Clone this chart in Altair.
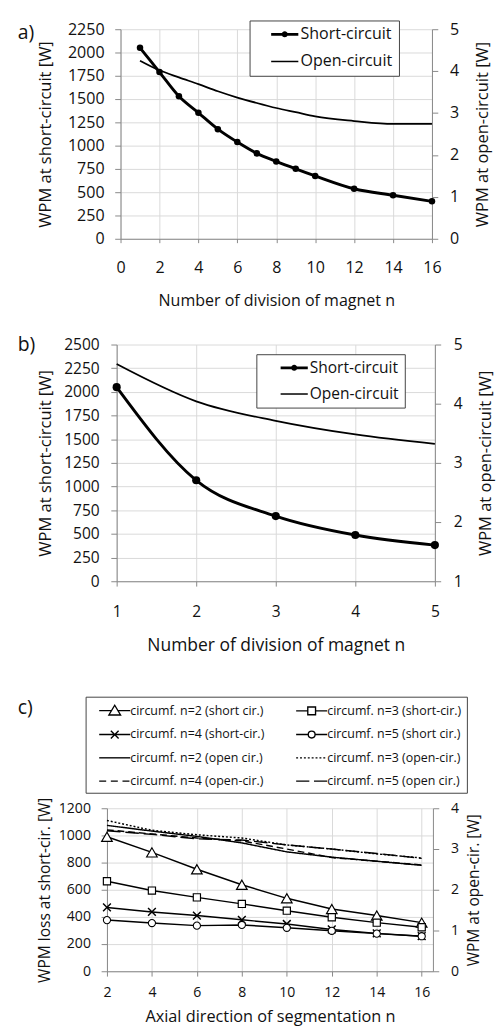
import altair as alt
import pandas as pd

# ---------------- data ----------------
a_n = [1, 2, 3, 4, 5, 6, 7, 8, 9, 10, 12, 14, 16]
a_short = [2050, 1790, 1530, 1353, 1177, 1038, 917, 831, 751, 675, 537, 467, 402]
a_open = [4.25, 4.02, 3.85, 3.69, 3.52, 3.37, 3.24, 3.12, 3.02, 2.92, 2.81, 2.74, 2.74]

b_n = [1, 2, 3, 4, 5]
b_short = [2050, 1066, 688, 488, 382]
b_open = [4.67, 4.04, 3.71, 3.48, 3.32]

c_n = [2, 4, 6, 8, 10, 12, 14, 16]
c_short_n2 = [990, 875, 751, 637, 537, 458, 410, 358]
c_short_n3 = [663, 594, 544, 496, 446, 398, 358, 324]
c_short_n4 = [470, 437, 410, 379, 348, 308, 279, 258]
c_short_n5 = [377, 355, 336, 341, 320, 298, 277, 258]
c_open_n2 = [3.58, 3.44, 3.31, 3.15, 2.93, 2.80, 2.70, 2.60]
c_open_n3 = [3.70, 3.46, 3.35, 3.27, 3.10, 3.00, 2.88, 2.78]
c_open_n4 = [3.47, 3.37, 3.27, 3.20, 3.00, 2.79, 2.70, 2.61]
c_open_n5 = [3.45, 3.36, 3.25, 3.22, 3.10, 3.00, 2.89, 2.77]

legend_a = ["Short-circuit", "Open-circuit"]
legend_b = ["Short-circuit ", "Open-circuit "]
legend_c = [
    "circumf.  n=2 (short cir.)", "circumf. n=3 (short-cir.)",
    "circumf. n=4 (short-cir.)", "circumf. n=5 (short cir.)",
    "circumf. n=2 (open cir.)", "circumf. n=3 (open-cir.)",
    "circumf. n=4 (open-cir.)", "circumf. n=5 (open cir.)",
]
panel_labels = ["a)", "b)", "c)"]

# ---------------- style ----------------
FONT = "Open Sans"
TXT = "#111111"
GRID = "#d9d9d9"
AXC = "#868686"


def x_axis(title, values, size, tsize, tick, lpad, tpad):
    return alt.Axis(title=title, values=values, grid=True, gridColor=GRID, domainColor=AXC,
                    tickColor=AXC, tickSize=tick, labelFlush=False, labelFont=FONT,
                    labelFontSize=size, labelColor=TXT, titleFont=FONT, titleFontSize=tsize,
                    titleColor=TXT, titleFontWeight="normal", labelPadding=lpad,
                    titlePadding=tpad, labelOverlap=False, format="d")


def y_axis(title, values, orient, size, tsize, lpad, tpad):
    kw = dict(title=title, values=values, orient=orient, grid=(orient == "left"),
              gridColor=GRID, domainColor=AXC, tickColor=AXC, tickSize=6,
              labelFont=FONT, labelFontSize=size, labelColor=TXT, titleFont=FONT,
              titleFontSize=tsize, titleColor=TXT, titleFontWeight="normal",
              labelPadding=lpad, titlePadding=tpad, labelOverlap=False, format="d")
    if orient == "right":
        kw.update(titleAngle=270, titleBaseline="top")
    return alt.Axis(**kw)


def panel_label(txt, dx, dy):
    return alt.Chart(pd.DataFrame({"label": [txt]})).mark_text(
        font=FONT, fontSize=20, align="left", baseline="middle", color=TXT
    ).encode(text="label:N", x=alt.value(dx), y=alt.value(dy))


def top_space(dy):
    # invisible rule that only reserves room above a panel
    return alt.Chart(pd.DataFrame({"s": [0]})).mark_rule(opacity=0).encode(
        x=alt.value(0), x2=alt.value(1), y=alt.value(dy))


# legend symbols (custom paths, unit = sqrt(size)/2 px)
SYM_SHORT = ("M-1,-0.2H3V0.2H-1Z M0.55,0 A0.45,0.45 0 1,1 1.45,0 "
             "A0.45,0.45 0 1,1 0.55,0 Z")
SYM_OPEN = "M-1,-0.11H3V0.11H-1Z"


def ab_legend(items, lx, ly, fsize, soff):
    ldf = pd.DataFrame({"series": items})
    return alt.Chart(ldf).mark_point(filled=True, color="black", opacity=1, strokeWidth=0).encode(
        shape=alt.Shape("series:N", sort=None,
                        scale=alt.Scale(domain=items, range=[SYM_SHORT, SYM_OPEN]),
                        legend=alt.Legend(title=None, orient="none", legendX=lx, legendY=ly,
                                          strokeColor="#404040", fillColor="white", padding=6,
                                          symbolSize=196, labelOffset=15, symbolOffset=soff,
                                          labelFont=FONT, labelFontSize=fsize, labelColor=TXT,
                                          rowPadding=11, symbolStrokeWidth=0))
    ).transform_filter("false")


dots = "".join(f"M{-1 + 0.5 * i:.2f},0H{-0.75 + 0.5 * i:.2f}" for i in range(8))
SYM_C = [
    "M-1,0H0.58M1.42,0H3M1,-0.7L1.75,0.55L0.25,0.55Z",
    "M-1,0H0.5M1.5,0H3M0.5,-0.5H1.5V0.5H0.5Z",
    "M-1,0H3M0.5,-0.5L1.5,0.5M0.5,0.5L1.5,-0.5",
    "M-1,0H0.56M1.44,0H3M0.56,0A0.44,0.44 0 1,1 1.44,0A0.44,0.44 0 1,1 0.56,0Z",
    "M-1,0H3",
    dots,
    "M-1,0H-0.1M0.5,0H1.4M2,0H2.9",
    "M-1,0H0.7M1.3,0H3",
]
# legend entries are filled column by column: reorder so rows read as in the figure
c_leg_order = [0, 2, 4, 6, 1, 3, 5, 7]

# ---------------- panel a ----------------
dfa = pd.DataFrame({"n": a_n, "short": a_short, "open": a_open})
xa = alt.X("n:Q", scale=alt.Scale(domain=[0, 16], nice=False, zero=False),
           axis=x_axis("Number of division of magnet n", list(range(0, 17, 2)), 16.5, 16.5, 4, 18, 17))
ya_l = alt.Y("short:Q", scale=alt.Scale(domain=[0, 2250], nice=False),
             axis=y_axis("WPM at short-circuit [W]", list(range(0, 2251, 250)), "left", 16.5, 17, 11, 13))
ya_r = alt.Y("open:Q", scale=alt.Scale(domain=[0, 5], nice=False),
             axis=y_axis("WPM at open-circuit [W]", [0, 1, 2, 3, 4, 5], "right", 16.5, 17, 12, 17))

a_left = alt.layer(
    alt.Chart(dfa).mark_line(color="black", strokeWidth=3, interpolate="monotone").encode(x=xa, y=ya_l),
    alt.Chart(dfa).mark_point(filled=True, shape="circle", size=45, color="black", opacity=1).encode(x=xa, y=ya_l),
)
a_right = alt.Chart(dfa).mark_line(color="black", strokeWidth=1.8, interpolate="monotone").encode(x=xa, y=ya_r)
panel_a = alt.layer(a_left, a_right, ab_legend(legend_a, 133, -9, 16.5, 15),
                    panel_label(panel_labels[0], -106, 4)).resolve_scale(
    y="independent").properties(width=321, height=216)

# ---------------- panel b ----------------
dfb = pd.DataFrame({"n": b_n, "short": b_short, "open": b_open})
xb = alt.X("n:Q", scale=alt.Scale(domain=[1, 5], nice=False, zero=False),
           axis=x_axis("Number of division of magnet n", [1, 2, 3, 4, 5], 16, 18, 5, 18, 18))
yb_l = alt.Y("short:Q", scale=alt.Scale(domain=[0, 2500], nice=False),
             axis=y_axis("WPM at short-circuit [W]", list(range(0, 2501, 250)), "left", 16, 17, 12, 10))
yb_r = alt.Y("open:Q", scale=alt.Scale(domain=[1, 5], nice=False, zero=False),
             axis=y_axis("WPM at open-circuit [W]", [1, 2, 3, 4, 5], "right", 16, 17, 13, 16))
b_left = alt.layer(
    alt.Chart(dfb).mark_line(color="black", strokeWidth=3, interpolate="monotone").encode(x=xb, y=yb_l),
    alt.Chart(dfb).mark_point(filled=True, shape="circle", size=70, color="black", opacity=1).encode(x=xb, y=yb_l),
)
b_right = alt.Chart(dfb).mark_line(color="black", strokeWidth=1.8, interpolate="monotone").encode(x=xb, y=yb_r)
panel_b = alt.layer(b_left, b_right, ab_legend(legend_b, 144, 10, 16, 18),
                    panel_label(panel_labels[1], -102, 1)).resolve_scale(
    y="independent").properties(width=328, height=244)

# ---------------- panel c ----------------
short_cols = [c_short_n2, c_short_n3, c_short_n4, c_short_n5]
open_cols = [c_open_n2, c_open_n3, c_open_n4, c_open_n5]
dfc_s = pd.DataFrame([{"n": n, "value": v, "series": legend_c[i]}
                      for i, col in enumerate(short_cols) for n, v in zip(c_n, col)])
dfc_o = pd.DataFrame([{"n": n, "value": v, "series": legend_c[4 + i]}
                      for i, col in enumerate(open_cols) for n, v in zip(c_n, col)])
xc = alt.X("n:Q", scale=alt.Scale(domain=[2, 16.5], nice=False, zero=False),
           axis=x_axis("Axial direction of segmentation n", list(range(2, 17, 2)), 14.5, 16.8, 5, 10, 10))
yc_l = alt.Y("value:Q", scale=alt.Scale(domain=[0, 1200], nice=False),
             axis=y_axis("WPM loss at short-cir. [W]", list(range(0, 1201, 200)), "left", 14.5, 16, 11, 6))
yc_r = alt.Y("value:Q", scale=alt.Scale(domain=[0, 4], nice=False),
             axis=y_axis("WPM at open-cir. [W]", [0, 1, 2, 3, 4], "right", 14.5, 16, 12, 8))

marker_defs = [
    dict(shape="triangle-up", size=120, filled=True, fill="white", stroke="black", strokeWidth=1.2),
    dict(shape="square", size=55, filled=True, fill="white", stroke="black", strokeWidth=1.2),
    dict(shape="M-1,-1L1,1M-1,1L1,-1", size=64, filled=False, stroke="black", strokeWidth=1.5),
    dict(shape="circle", size=55, filled=True, fill="white", stroke="black", strokeWidth=1.1),
]
short_layers = []
for i in range(4):
    flt = alt.FieldEqualPredicate(field="series", equal=legend_c[i])
    short_layers.append(alt.Chart(dfc_s).mark_line(color="black", strokeWidth=1.5).encode(
        x=xc, y=yc_l).transform_filter(flt))
for i in range(4):
    flt = alt.FieldEqualPredicate(field="series", equal=legend_c[i])
    short_layers.append(alt.Chart(dfc_s).mark_point(opacity=1, **marker_defs[i]).encode(
        x=xc, y=yc_l).transform_filter(flt))

dashes = [[1, 0], [2, 2], [7, 4], [14, 5]]
open_layers = []
for i in range(4):
    flt = alt.FieldEqualPredicate(field="series", equal=legend_c[4 + i])
    open_layers.append(alt.Chart(dfc_o).mark_line(color="black", strokeWidth=1.5, strokeDash=dashes[i]).encode(
        x=xc, y=yc_r).transform_filter(flt))

c_dom = [legend_c[k] for k in c_leg_order]
c_rng = [SYM_C[k] for k in c_leg_order]
legend_c_layer = alt.Chart(pd.DataFrame({"series": legend_c})).mark_point(
    filled=False, color="black", opacity=1, strokeWidth=1.4
).encode(
    shape=alt.Shape("series:N", sort=None, scale=alt.Scale(domain=c_dom, range=c_rng),
                    legend=alt.Legend(title=None, orient="none", legendX=-22, legendY=-115,
                                      strokeColor="#404040", fillColor="white", padding=5,
                                      columns=2, columnPadding=21, rowPadding=8,
                                      symbolSize=256, labelOffset=15, symbolOffset=8,
                                      labelFont=FONT, labelFontSize=12.8, labelColor=TXT,
                                      symbolStrokeWidth=1.4, symbolStrokeColor="black",
                                      labelLimit=300))
).transform_filter("false")

panel_c = alt.layer(alt.layer(*short_layers), alt.layer(*open_layers), legend_c_layer,
                    panel_label(panel_labels[2], -92, -103), top_space(-131)).resolve_scale(
    y="independent").properties(width=336, height=168)


def spacer():
    return alt.Chart(pd.DataFrame({"s": [0]})).mark_point(opacity=0).encode(
        x=alt.value(0), y=alt.value(0)).properties(width=1, height=1)


wrap = [alt.hconcat(spacer(), p, spacing=0).resolve_scale(shape="independent")
        for p in (panel_a, panel_b, panel_c)]

chart = alt.vconcat(*wrap, spacing=28).resolve_scale(
    shape="independent", x="independent", y="independent"
).resolve_legend(shape="independent").properties(
    padding={"left": 4, "top": -4, "right": 2, "bottom": 0}
).configure(font=FONT).configure_view(strokeWidth=0)

chart.save("out.html", embed_options={"renderer": "svg", "actions": False})
